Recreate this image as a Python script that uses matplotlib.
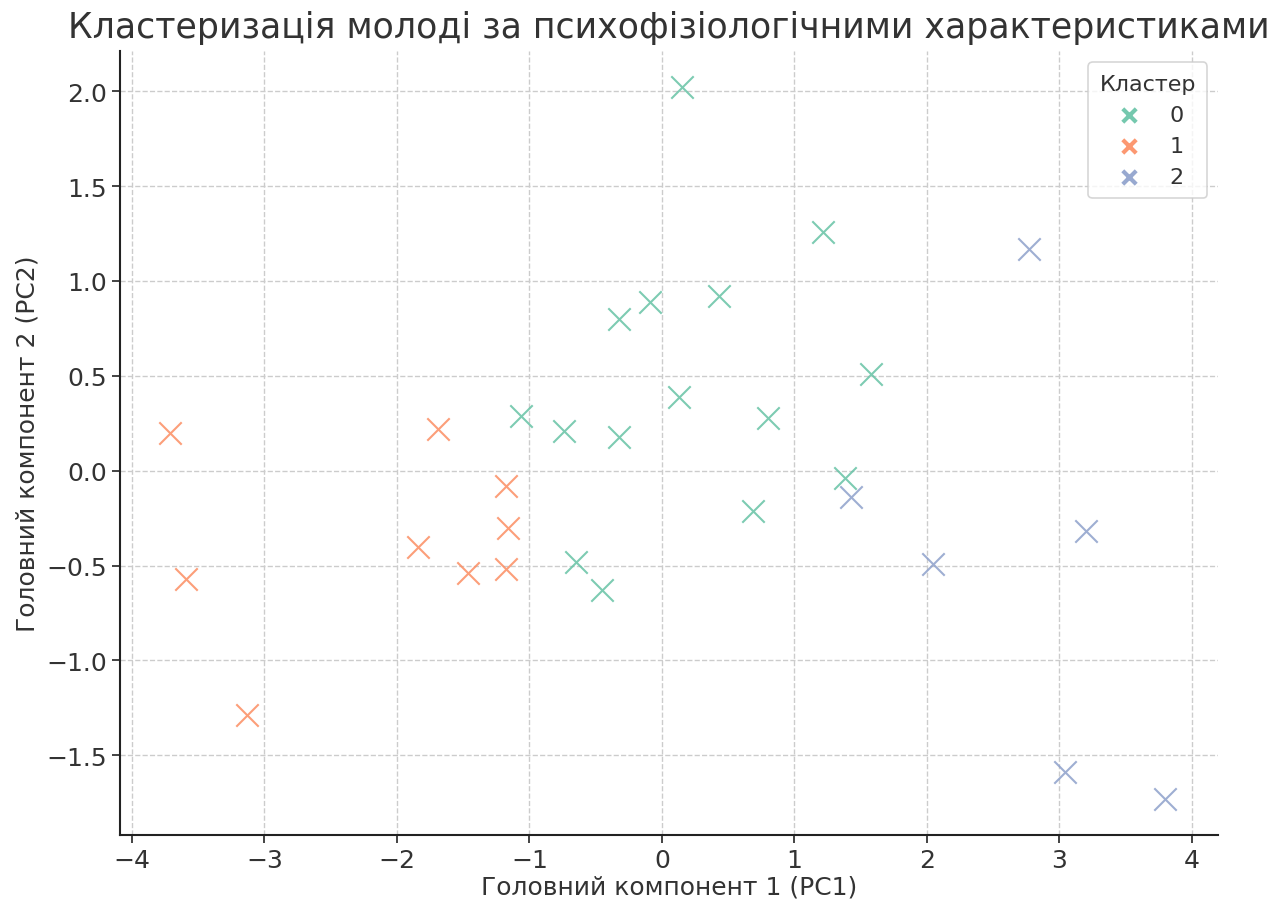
import matplotlib
matplotlib.use("Agg")
import matplotlib.pyplot as plt

c0_x = [0.15, 1.22, 0.43, -0.09, -0.32, 1.58, 0.13, 0.80, -1.06, -0.74, -0.32, 1.38, 0.69, -0.65, -0.45]
c0_y = [2.02, 1.26, 0.92, 0.89, 0.80, 0.51, 0.39, 0.28, 0.29, 0.21, 0.18, -0.04, -0.21, -0.48, -0.63]
c1_x = [-3.71, -1.69, -1.18, -1.16, -1.84, -1.46, -1.18, -3.59, -3.13]
c1_y = [0.20, 0.22, -0.08, -0.30, -0.40, -0.54, -0.52, -0.57, -1.29]
c2_x = [2.77, 1.43, 3.20, 2.05, 3.04, 3.80]
c2_y = [1.17, -0.14, -0.32, -0.49, -1.59, -1.73]

clusters = ["0", "1", "2"]
colors = ["#66c2a5", "#fc8d62", "#8da0cb"]
title = "Кластеризація молоді за психофізіологічними характеристиками"
xlabel = "Головний компонент 1 (PC1)"
ylabel = "Головний компонент 2 (PC2)"

plt.rcParams['font.family'] = ['DejaVu Sans']
txt = "#333333"
fig = plt.figure(figsize=(12.85, 9.03), dpi=100)
ax = fig.add_axes([0.0934, 0.0742, 0.8546, 0.8678])

data = [(c0_x, c0_y), (c1_x, c1_y), (c2_x, c2_y)]
for (xs, ys), lab, col in zip(data, clusters, colors):
    ax.scatter(xs, ys, marker='x', s=260, c=col, linewidths=1.5, label=lab, alpha=0.85, zorder=3)

ax.set_xlim(-4.09, 4.2)
ax.set_ylim(-1.92, 2.21)
ax.set_xticks([-4, -3, -2, -1, 0, 1, 2, 3, 4])
ax.set_yticks([-1.5, -1.0, -0.5, 0.0, 0.5, 1.0, 1.5, 2.0])
ax.grid(True, linestyle='--', color='#cccccc', linewidth=1.0)
ax.set_axisbelow(True)
for s in ['top', 'right']:
    ax.spines[s].set_visible(False)
for s in ['left', 'bottom']:
    ax.spines[s].set_linewidth(1.5)
    ax.spines[s].set_color('#222222')
ax.tick_params(labelsize=18, length=6, width=1.2, colors='#222222', labelcolor=txt)
ax.set_xlabel(xlabel, fontsize=18, color=txt, labelpad=2)
ax.set_ylabel(ylabel, fontsize=18, color=txt, labelpad=5)
ax.set_title(title, fontsize=25, color=txt, pad=10)

leg = ax.legend(title="Кластер", loc='upper right', fontsize=16, title_fontsize=16,
                markerscale=0.6, frameon=True, borderpad=0.5, handletextpad=1.0,
                handlelength=1.6, labelspacing=0.5, borderaxespad=0.5)
leg.get_frame().set_edgecolor('#cccccc')
leg.get_frame().set_linewidth(1.2)
for h in leg.legend_handles:
    h.set_linewidths(3)
    h.set_alpha(0.9)
for t in leg.get_texts():
    t.set_color(txt)
leg.get_title().set_color(txt)

fig.savefig("out.png", dpi=100)
